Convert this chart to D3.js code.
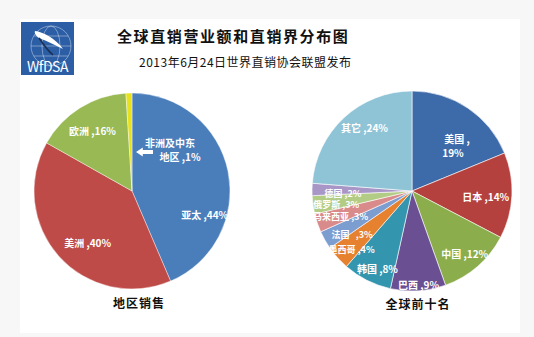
<!DOCTYPE html>
<html>
<head>
<meta charset="utf-8">
<script src="https://cdn.jsdelivr.net/npm/d3@7"></script>
<style>
  html, body { margin: 0; padding: 0; background: #f7f7f7; }
  svg { display: block; }
  text { font-family: "Noto Sans CJK SC", "Noto Sans", sans-serif; }
</style>
</head>
<body>
<svg id="chart" width="534" height="337"></svg>
<script>
// ---------- data ----------
const regionNames  = ["亚太", "美洲", "欧洲", "非洲及中东地区"];
const regionValues = [44, 40, 16, 1];
const regionColors = ["#4a7ebb", "#be4b48", "#98b954", "#e8e11e"];

const countryNames  = ["美国", "日本", "中国", "巴西", "韩国", "墨西哥", "法国", "马来西亚", "俄罗斯", "德国", "其它"];
const countryValues = [19, 14, 12, 9, 8, 4, 3, 3, 3, 2, 24];
const countryColors = ["#3d6aa8", "#b5413e", "#8bad4b", "#6a4f93", "#3395ae", "#e5812f",
                       "#7c9dd0", "#d88b8a", "#b3cc85", "#a796c6", "#8fc3d6"];

const titleText    = "全球直销营业额和直销界分布图";
const subtitleText = "2013年6月24日世界直销协会联盟发布";
const leftCaption  = "地区销售";
const rightCaption = "全球前十名";

// ---------- layout (label placement: [angle deg clockwise from top, radius fraction]) ----------
const regionLabelPolar = {
  "亚太": [108, 0.78], "美洲": [221, 0.69], "欧洲": [327, 0.74], "非洲及中东地区": [46, 0.61]
};
const countryLabelPolar = {
  "美国": [43, 0.63], "日本": [94.6, 0.74], "中国": [140, 0.82], "巴西": [176, 0.94],
  "韩国": [204, 0.85], "墨西哥": [226, 0.84], "法国": [234, 0.74], "马来西亚": [250, 0.76],
  "俄罗斯": [259.6, 0.77], "德国": [268, 0.69], "其它": [323, 0.79]
};

const svg = d3.select("#chart");

// white panel
svg.append("rect").attr("x", 20).attr("y", 19).attr("width", 500).attr("height", 314).attr("fill", "#ffffff");

// ---------- logo ----------
const logo = svg.append("g").attr("transform", "translate(21,22)");
logo.append("rect").attr("width", 53).attr("height", 53).attr("fill", "#2c5ea6");
const g1 = logo.append("g").attr("fill", "none").attr("stroke", "rgba(255,255,255,0.55)").attr("stroke-width", 0.7);
g1.append("circle").attr("cx", 30).attr("cy", 24).attr("r", 20);
g1.append("ellipse").attr("cx", 30).attr("cy", 24).attr("rx", 9).attr("ry", 20);
g1.append("line").attr("x1", 10).attr("y1", 24).attr("x2", 50).attr("y2", 24);
g1.append("line").attr("x1", 13).attr("y1", 14).attr("x2", 47).attr("y2", 14);
g1.append("line").attr("x1", 13).attr("y1", 34).attr("x2", 47).attr("y2", 34);
logo.append("path")
  .attr("d", "M14,9 C22,10 34,16 42,27 C36,24 26,19 18,16 C15,14 13,11 14,9 Z")
  .attr("fill", "#ffffff");
logo.append("path")
  .attr("d", "M18,16 C22,22 26,28 32,33")
  .attr("fill", "none").attr("stroke", "#1a2f55").attr("stroke-width", 1.6);
logo.append("text").attr("x", 26.5).attr("y", 50).attr("text-anchor", "middle")
  .attr("font-family", "'Liberation Serif', 'DejaVu Serif', serif")
  .attr("font-size", 14).attr("fill", "#ffffff").attr("letter-spacing", -0.5)
  .text("WfDSA");

// ---------- titles ----------
svg.append("text").attr("x", 117).attr("y", 42)
  .attr("font-size", 15).attr("font-weight", "bold").attr("letter-spacing", 1.6)
  .attr("fill", "#111").text(titleText);
svg.append("text").attr("x", 139).attr("y", 67)
  .attr("font-size", 12).attr("letter-spacing", 0.5)
  .attr("fill", "#111").text(subtitleText);

// ---------- pie helper ----------
function drawPie(cx, cy, r, names, values, colors, polar, opts) {
  const pie = d3.pie().sort(null).value(d => d.v);
  const data = names.map((n, i) => ({ n, v: values[i], c: colors[i] }));
  const arcs = pie(data);
  const arc = d3.arc().innerRadius(0).outerRadius(r);
  const g = svg.append("g").attr("transform", `translate(${cx},${cy})`);
  g.selectAll("path").data(arcs).join("path")
    .attr("d", arc).attr("fill", d => d.data.c)
    .attr("stroke", "#ffffff").attr("stroke-width", opts.stroke);
  const lab = g.append("g").attr("fill", "#ffffff")
    .attr("font-weight", "bold").attr("text-anchor", "middle");
  arcs.forEach(d => {
    const p = polar[d.data.n];
    const a = p[0] * Math.PI / 180, rr = p[1] * r;
    const x = rr * Math.sin(a), y = -rr * Math.cos(a);
    const lines = opts.lines(d.data);
    const t = lab.append("text").attr("x", x).attr("y", y)
      .attr("font-size", opts.size(d.data))
      .attr("dominant-baseline", "central");
    if (lines.length === 1) {
      t.text(lines[0].t);
    } else {
      lines.forEach((l, i) => {
        t.append("tspan").attr("x", x + (l.dx || 0))
          .attr("dy", i === 0 ? -7 : 14).text(l.t);
      });
    }
  });
  return g;
}

// left pie
const leftG = drawPie(132, 191, 98, regionNames, regionValues, regionColors, regionLabelPolar, {
  stroke: 0.4,
  size: () => 10,
  lines: d => d.n === "非洲及中东地区"
    ? [{ t: "非洲及中东", dx: -5 }, { t: "地区 ," + d.v + "%", dx: 5 }]
    : [{ t: d.n + " ," + d.v + "%" }]
});
// arrow pointing toward the thin slice
const arrowX = d3.scaleLinear().domain([0, 1]).range([4, 21]);
leftG.append("path")
  .attr("d", `M${arrowX(0)},-39 L${arrowX(0.4)},-43.5 L${arrowX(0.4)},-41 L${arrowX(1)},-41 L${arrowX(1)},-37 L${arrowX(0.4)},-37 L${arrowX(0.4)},-34.5 Z`)
  .attr("fill", "#ffffff");

// right pie
drawPie(412, 191, 100, countryNames, countryValues, countryColors, countryLabelPolar, {
  stroke: 0.6,
  size: d => d.v <= 4 ? 9 : 10,
  lines: d => d.n === "美国"
    ? [{ t: d.n + " ,", dx: 2 }, { t: d.v + "%", dx: -2 }]
    : d.n === "法国"
      ? [{ t: d.n + "\u00a0\u00a0\u00a0," + d.v + "%" }]
      : [{ t: d.n + " ," + d.v + "%" }]
});

// captions
svg.append("text").attr("x", 139).attr("y", 308).attr("text-anchor", "middle")
  .attr("font-size", 12).attr("font-weight", "bold").attr("letter-spacing", 1)
  .attr("fill", "#111").text(leftCaption);
svg.append("text").attr("x", 418).attr("y", 309).attr("text-anchor", "middle")
  .attr("font-size", 12).attr("font-weight", "bold").attr("letter-spacing", 1)
  .attr("fill", "#111").text(rightCaption);
</script>
</body>
</html>
